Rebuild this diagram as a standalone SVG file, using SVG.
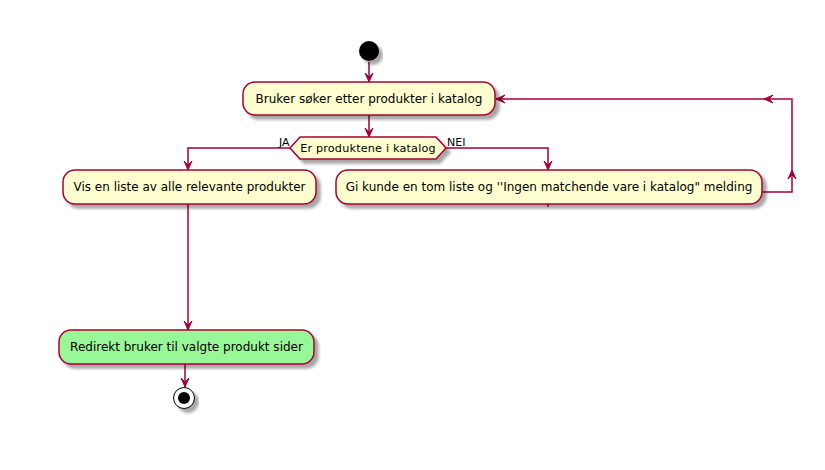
<svg xmlns="http://www.w3.org/2000/svg" width="825" height="470" viewBox="0 0 825 470">
<style>
.box{fill:#FEFECE;stroke:#A80036;stroke-width:1.5;filter:url(#sh)}
.green{fill:#98F898}
.lbl{font-family:"DejaVu Sans",sans-serif;font-size:12px;fill:#000;text-anchor:middle}
.small{font-family:"DejaVu Sans",sans-serif;font-size:11px;fill:#000}
.dia{font-size:11.2px;letter-spacing:0.2px}
.conn path{fill:none;stroke:#A80036;stroke-width:1.5;marker-end:url(#arr)}
.conn path.plain{marker-end:none}
</style>
<defs>
<filter id="sh" x="-10%" y="-20%" width="130%" height="160%">
<feGaussianBlur in="SourceAlpha" stdDeviation="1.8"/>
<feOffset dx="4" dy="4" result="b"/>
<feComponentTransfer><feFuncA type="linear" slope="0.35"/></feComponentTransfer>
<feMerge><feMergeNode/><feMergeNode in="SourceGraphic"/></feMerge>
</filter>
<marker id="arr" viewBox="0 0 10 10" refX="9" refY="5" markerWidth="10" markerHeight="10" markerUnits="userSpaceOnUse" orient="auto">
<path d="M0,1 L9,5 L0,9 L4,5 Z" fill="#A80036" stroke="#A80036" stroke-width="1"/>
</marker>
</defs>
<rect width="825" height="470" fill="#fff"/>
<g class="conn" id="connectors">
<path d="M369,62 V82"/>
<path d="M369,115 V137"/>
<path d="M290,148 H188 V170"/>
<path d="M446,148 H548 V170"/>
<path d="M188,204 V330"/>
<path d="M185,364 V387"/>
<path d="M762,192 H792 V170"/>
<path d="M792,170 V99 H764"/>
<path d="M764,99 H496"/>
<path class="plain" d="M548,204 V207"/>
</g>
<g id="start"><circle cx="369" cy="51" r="10" fill="#000" filter="url(#sh)"/></g>
<g id="search"><rect class="box" x="243" y="82" width="252" height="33" rx="12"/><text class="lbl" x="369" y="103">Bruker søker etter produkter i katalog</text></g>
<g id="decision"><polygon class="box" points="290,148 300,137 436,137 446,148 436,159 300,159"/><text class="small dia" x="368" y="152" text-anchor="middle">Er produktene i katalog</text>
<text class="small" x="279" y="146">JA</text><text class="small" x="447" y="146">NEI</text></g>
<g id="show"><rect class="box" x="63" y="170" width="253" height="34" rx="12"/><text class="lbl" x="189.5" y="191">Vis en liste av alle relevante produkter</text></g>
<g id="empty"><rect class="box" x="336" y="170" width="426" height="34" rx="12"/><text class="lbl" x="549" y="191">Gi kunde en tom liste og ''Ingen matchende vare i katalog" melding</text></g>
<g id="redirect"><rect class="box green" x="59" y="330" width="255" height="34" rx="12"/><text class="lbl" x="186.5" y="351">Redirekt bruker til valgte produkt sider</text></g>
<g id="end"><circle cx="184" cy="398" r="10.5" fill="#fff" stroke="#000" stroke-width="1" filter="url(#sh)"/><circle cx="184" cy="398" r="6" fill="#000"/></g>
</svg>
